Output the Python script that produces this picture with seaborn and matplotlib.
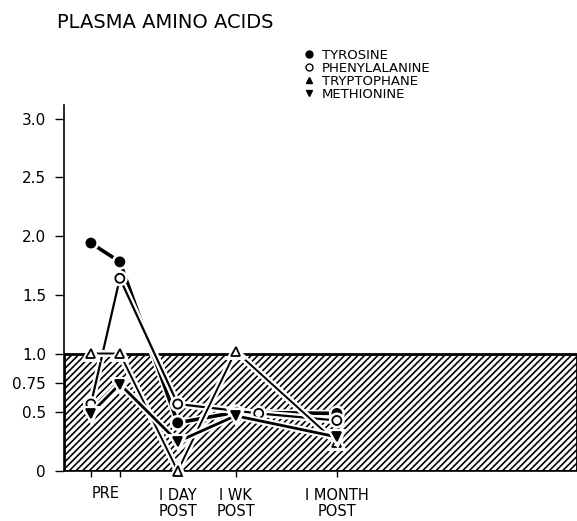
import matplotlib
matplotlib.use("Agg")
import matplotlib.pyplot as plt
import matplotlib.patheffects as pe
from matplotlib.lines import Line2D
import seaborn as sns

# ---- data ----
tick_positions = [0, 1, 3, 5, 8.5]
tick_labels = ["", "", "I DAY\nPOST", "I WK\nPOST", "I MONTH\nPOST"]
pre_label = "PRE"

tyrosine_x = [0, 1, 3, 5, 8.5]
tyrosine = [1.94, 1.78, 0.41, 0.50, 0.49]

phenylalanine_x = [0, 1, 3, 5.8, 8.5]
phenylalanine = [0.57, 1.64, 0.57, 0.49, 0.43]

tryptophane_x = [0, 1, 3, 5, 8.5]
tryptophane = [1.00, 1.00, 0.00, 1.02, 0.24]

methionine_x = [0, 1, 3, 5, 8.5]
methionine = [0.49, 0.74, 0.25, 0.47, 0.29]

ytick_values = [0, 0.5, 0.75, 1.0, 1.5, 2.0, 2.5, 3.0]
ytick_labels = ["0", "0.5", "0.75", "1.0", "1.5", "2.0", "2.5", "3.0"]

normal_band = (0.0, 1.0)

title = "PLASMA AMINO ACIDS"
legend_names = ["TYROSINE", "PHENYLALANINE", "TRYPTOPHANE", "METHIONINE"]

# ---- style ----
sns.set_style("white")
plt.rcParams["font.family"] = ["DejaVu Sans"]
plt.rcParams["text.color"] = "black"
plt.rcParams["xtick.color"] = "black"
plt.rcParams["ytick.color"] = "black"
plt.rcParams["xtick.labelcolor"] = "black"
plt.rcParams["ytick.labelcolor"] = "black"
plt.rcParams["hatch.linewidth"] = 1.2
plt.rcParams["hatch.color"] = "black"

fig = plt.figure(figsize=(5.77, 5.21), dpi=100)
ax = fig.add_axes([64 / 577, 50 / 521, 1 - 64 / 577, 366 / 521])

# normal range band (hatched)
ax.axhspan(normal_band[0], normal_band[1], facecolor="white", edgecolor="black",
           hatch="/////", linewidth=2.0, zorder=0)

halo = [pe.Stroke(linewidth=5, foreground="white"), pe.Normal()]

series = [
    (tyrosine_x, tyrosine, "o", "black", 2.6),
    (phenylalanine_x, phenylalanine, "o", "white", 1.6),
    (tryptophane_x, tryptophane, "^", "white", 1.4),
    (methionine_x, methionine, "v", "black", 2.0),
]
for xs, ys, mk, fc, lw in series:
    sns.lineplot(x=xs, y=ys, ax=ax, color="black", linewidth=lw, marker=mk,
                 markersize=6.5, markerfacecolor=fc, markeredgecolor="black",
                 markeredgewidth=1.3, path_effects=halo, clip_on=False,
                 zorder=3)

ax.set_xlim(-0.93, 16.8)
ax.set_ylim(0, 3.115)

ax.set_xticks(tick_positions)
ax.set_xticklabels(tick_labels, fontsize=10.5, linespacing=1.1, color="black")
ax.set_xticks([0.5], minor=True)
ax.set_xticklabels([pre_label], minor=True, fontsize=10.5, color="black")
ax.tick_params(axis="x", which="major", direction="out", length=4, width=1,
               color="black", bottom=True, pad=8)
ax.tick_params(axis="x", which="minor", length=0, pad=11)

ax.set_yticks(ytick_values)
ax.set_yticklabels(ytick_labels, fontsize=11, color="black")
ax.tick_params(axis="y", direction="out", length=6.5, width=1, color="black",
               left=True, pad=6.5)

for s in ["top", "right"]:
    ax.spines[s].set_visible(False)
for s in ["left", "bottom"]:
    ax.spines[s].set_color("black")
    ax.spines[s].set_linewidth(1.2)

fig.text(57 / 577, 1 - 22 / 521, title, fontsize=14, va="center", ha="left",
         color="black")

handles = [
    Line2D([], [], linestyle="none", marker="o", markersize=5,
           markerfacecolor="black", markeredgecolor="black"),
    Line2D([], [], linestyle="none", marker="o", markersize=5,
           markerfacecolor="white", markeredgecolor="black"),
    Line2D([], [], linestyle="none", marker="^", markersize=5,
           markerfacecolor="black", markeredgecolor="black"),
    Line2D([], [], linestyle="none", marker="v", markersize=5,
           markerfacecolor="black", markeredgecolor="black"),
]
fig.legend(handles, legend_names, loc="upper left",
           bbox_to_anchor=(305 / 577, 1 - 49 / 521), frameon=False,
           fontsize=9.5, handlelength=0.6, handletextpad=0.7,
           labelspacing=0.0, borderaxespad=0, borderpad=0,
           labelcolor="black")

fig.savefig("out.png", dpi=100)
